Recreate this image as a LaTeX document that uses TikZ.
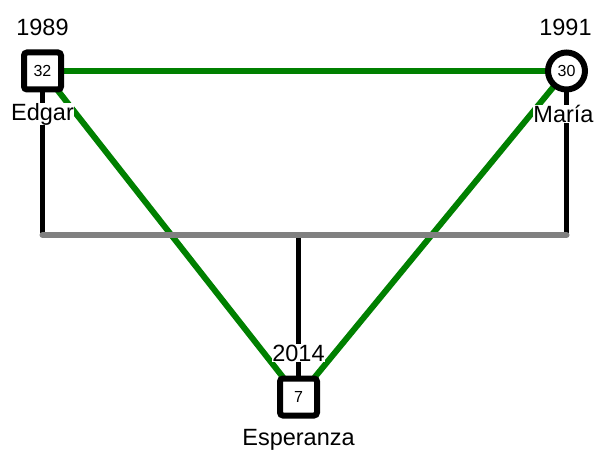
\documentclass[tikz,border=0pt]{standalone}
\usepackage{fontspec}
\setmainfont{Liberation Sans}
\definecolor{kgreen}{RGB}{0,128,0}
\definecolor{kgray}{RGB}{128,128,128}
\begin{document}
\begin{tikzpicture}[x=1pt,y=-1pt,
  person/.style={draw=black, fill=white, line width=6pt, minimum size=37pt, inner sep=0pt, font=\fontsize{16}{16}\selectfont},
  male/.style={person, rectangle, rounded corners=3pt},
  female/.style={person, circle},
  lbl/.style={fill=white, inner sep=0.5pt, font=\fontsize{23.5}{23.5}\selectfont},
  couple/.style={draw=kgreen, line width=6pt},
  desc/.style={draw=black, line width=5pt},
  union/.style={draw=kgray, line width=6pt, line cap=round}]
\useasboundingbox (0,0) rectangle (595,452);
\coordinate (ec) at (42.5,71);
\coordinate (mc) at (566.5,71);
\coordinate (sc) at (298.5,397);
\coordinate (ul) at (42.5,235);
\coordinate (ur) at (566.5,235);
\coordinate (um) at (298.5,235);
% couple lines
\draw[couple] (ec) -- (mc);
\draw[couple] (ec) -- (sc);
\draw[couple] (mc) -- (sc);
% descent lines
\draw[desc] (ec) -- (ul);
\draw[desc] (mc) -- (ur);
\draw[desc] (um) -- (sc);
\draw[union] (ul) -- (ur);
% persons
\node[male] (edgar) at (ec) {32};
\node[female] (maria) at (mc) {30};
\node[male] (esp) at (sc) {7};
% labels
\node[lbl] (y1) at (42.5,27) {1989};
\node[lbl] (n1) at (42.5,114) {Edgar};
\node[lbl] (y2) at (565.5,27) {1991};
\node[lbl] (n2) at (563.5,114) {María};
\node[lbl] (y3) at (298.5,353) {2014};
\node[lbl] (n3) at (298.5,440) {Esperanza};
\end{tikzpicture}
\end{document}
